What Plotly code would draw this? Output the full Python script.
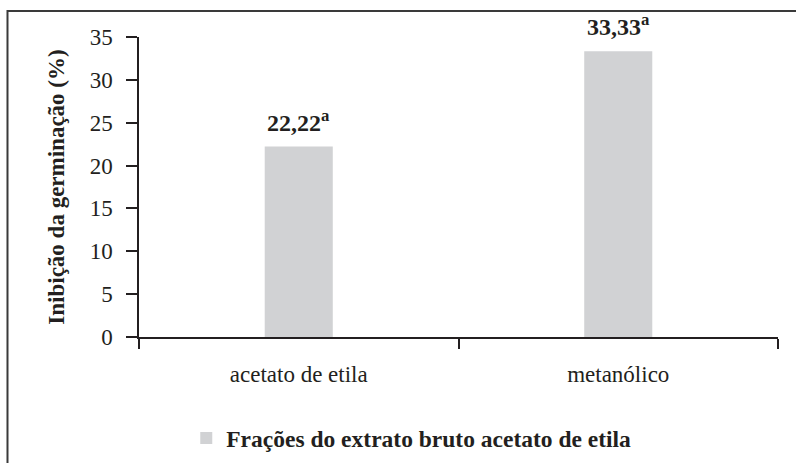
import plotly.graph_objects as go

categories = ["acetato de etila", "metanólico"]
values = [22.22, 33.33]
letters = ["a", "a"]
series_name = "Frações do extrato bruto acetato de etila"
y_title = "Inibição da germinação (%)"
y_ticks = [0, 5, 10, 15, 20, 25, 30, 35]

FONT = "Liberation Serif"
INK = "#231f20"
BAR = "#d1d2d4"

fig = go.Figure()
fig.add_trace(go.Bar(
    x=categories, y=values, name=series_name,
    marker=dict(color=BAR, line=dict(width=0)),
    width=0.213, showlegend=True,
))

for c, v, l in zip(categories, values, letters):
    label = f"{v:.2f}".replace(".", ",")
    fig.add_annotation(
        x=c, y=v, xref="x", yref="y",
        text=f"<b>{label}<sup>{l}</sup></b>",
        showarrow=False, yanchor="bottom", yshift=9,
        font=dict(family=FONT, size=24, color=INK),
    )

# outer frame
fig.add_shape(type="rect", xref="paper", yref="paper",
              x0=-0.2058, x1=1.04, y0=-0.45, y1=1.0867,
              line=dict(color="#3a3a3a", width=2), fillcolor="rgba(0,0,0,0)", layer="below")

fig.update_layout(
    width=796, height=463,
    margin=dict(l=139, r=18, t=37, b=126, autoexpand=False),
    paper_bgcolor="white", plot_bgcolor="white",
    font=dict(family=FONT, color=INK),
    showlegend=True,
    legend=dict(
        orientation="h", x=0.234, xanchor="left", xref="container",
        y=0.101, yanchor="top", yref="container",
        font=dict(family=FONT, size=23.5, color=INK, weight="bold"),
        bgcolor="rgba(0,0,0,0)", borderwidth=0,
    ),
    xaxis=dict(
        type="category", range=[-0.5, 1.5], automargin=False,
        showline=True, linecolor=INK, linewidth=1.5,
        ticks="outside", tickson="boundaries", ticklen=10, tickwidth=1.5, tickcolor=INK,
        tickfont=dict(family=FONT, size=23, color=INK),
        ticklabelstandoff=16,
        showgrid=False, zeroline=False,
    ),
    yaxis=dict(
        range=[0, 35], tickvals=y_ticks, automargin=False,
        showline=True, linecolor=INK, linewidth=1.5,
        ticks="outside", ticklen=11, tickwidth=1.5, tickcolor=INK,
        tickfont=dict(family=FONT, size=23, color=INK),
        ticklabelstandoff=9,
        showgrid=False, zeroline=False,
        title=dict(text=f"<b>{y_title}</b>", font=dict(family=FONT, size=23, color=INK), standoff=19),
    ),
)

fig.write_html("out.html", config={"displayModeBar": False},
               post_script="document.body.style.margin='0';")
